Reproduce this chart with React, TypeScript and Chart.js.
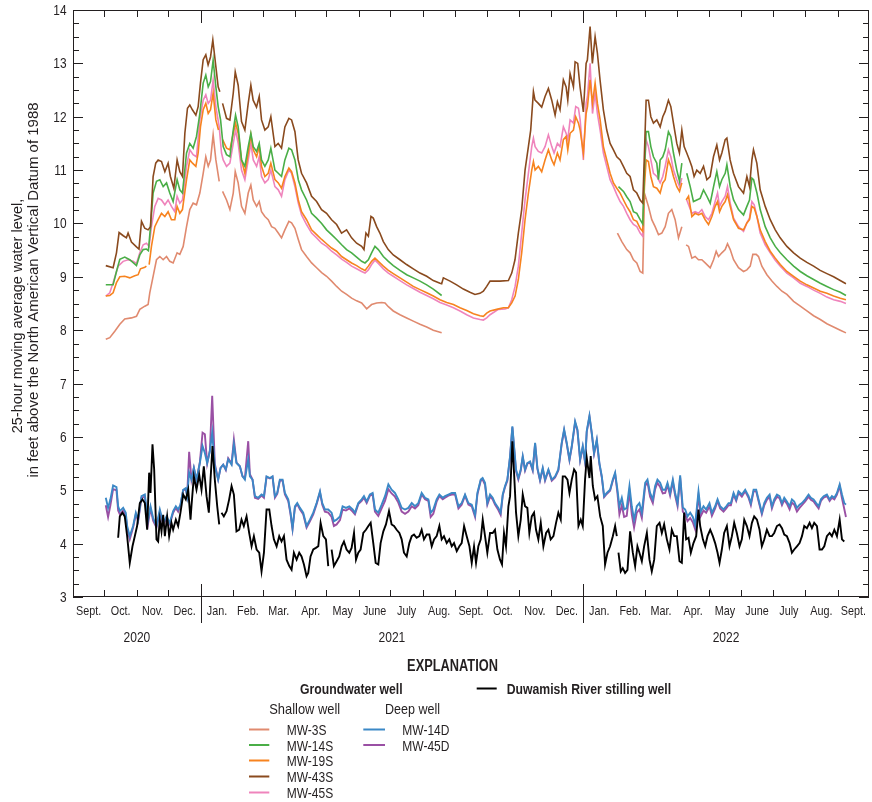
import { useEffect, useRef } from "react";
import { Chart, registerables } from "chart.js";

Chart.register(...registerables);

type Pt = [number, number | null];

// x = days since 1 September 2020, y = water level (ft NAVD 88)
const mw43S: Pt[] = [[31.3,9.21],[38.3,9.17],[41.5,9.45],[44,9.83],[48,9.77],[51,9.73],[52.6,9.82],[55.8,9.65],[60.6,9.56],[63,9.52],[65.4,10.04],[68.5,9.91],[71.7,9.88],[74,9.94],[76.5,10.88],[79,11.13],[81.3,11.19],[84.5,11.16],[87.7,10.97],[90.8,11.13],[93,10.88],[96.3,10.66],[99.4,11.19],[102,10.97],[104.5,10.88],[106.8,11.69],[109.3,12.16],[111.5,12.22],[114,12.13],[117.3,12.03],[119.5,12.19],[121.7,12.63],[124.3,13.07],[126.8,13.16],[129,12.97],[131.3,13.12],[133.5,13.44],[136.4,12.94],[138.6,12.56],[140.2,12.47],[141.5,null],[142.8,12.25],[146.6,11.97],[149.8,11.94],[153,12.44],[154.9,12.84],[157.7,12.59],[160.9,11.91],[164.1,11.75],[167.3,12.25],[169.8,12.59],[172,12.31],[175.2,12.18],[177.8,12.38],[180,11.94],[183.2,11.75],[186.4,11.81],[188.9,12.0],[192.8,11.44],[195.9,11.5],[199.1,11.41],[202.3,11.81],[206.1,11.97],[208.7,11.94],[211.9,11.72],[215,11.19],[218.2,10.94],[223,10.76],[227.8,10.51],[232.6,10.41],[237.3,10.26],[242.1,10.19],[246.9,10.07],[251.7,9.98],[256.4,9.82],[261.2,9.88],[266,9.73],[270.8,9.63],[275.6,9.57],[277.8,9.51],[279.7,9.82],[282,9.76],[284.5,10.13],[286.7,10.1],[289.9,9.94],[293,9.82],[296.3,9.66],[301,9.51],[305.8,9.41],[312.2,9.32],[318.5,9.23],[324.9,9.15],[331.3,9.07],[337.7,9.01],[344,8.93],[350.4,8.88],[352,8.87],[353.6,8.98],[360,8.92],[366.3,8.85],[372.7,8.77],[379,8.71],[383.8,8.67],[388.6,8.69],[391.8,8.73],[395,8.82],[398.2,8.92],[401.3,8.92],[407.7,8.92],[415.7,8.93],[418.9,9.07],[422,9.32],[425.2,9.82],[428.4,10.26],[431.6,11.0],[434.8,11.44],[437,11.75],[439.6,12.47],[441.1,12.31],[444.3,12.25],[447.5,12.18],[450.7,12.38],[453.9,12.53],[457.1,12.31],[460.3,12.03],[462.5,12.28],[465,12.13],[468.2,12.69],[470.8,12.56],[472.4,12.31],[474.6,12.81],[477.8,12.56],[479.4,13.03],[481.9,13.0],[484.1,12.56],[487.3,12.09],[489.9,13.0],[491.1,13.06],[493.7,13.69],[495.9,13.0],[498.5,13.5],[500.7,13.19],[503.2,12.69],[506.4,12.13],[509.6,11.75],[512.8,11.5],[516,11.38],[519.2,11.25],[522.4,11.19],[525.5,11.07],[528.7,10.94],[531.9,10.88],[535.1,10.63],[538.3,10.57],[541.5,10.44],[544,10.38],[545.6,11.32],[547.2,12.31],[549.4,12.31],[551.7,12.0],[554.2,11.88],[557.4,11.94],[560.6,11.81],[563.1,12.0],[565.4,12.1],[568.5,12.31],[570.8,12.19],[573.3,11.88],[576.5,11.5],[579,11.32],[581.3,11.75],[583.5,11.44],[586,11.32],[588.6,11.19],[590.8,11.07],[593,10.88],[595.6,11.0],[598.8,10.94],[602,11.07],[605.2,10.82],[608.3,10.88],[611.5,11.25],[614.7,11.47],[617.3,11.19],[619.5,11.32],[622.7,11.57],[624.3,11.6],[627.4,11.19],[630.6,10.94],[635.4,10.69],[640.2,10.57],[643.4,10.88],[645.9,10.69],[648.2,11.19],[649.7,11.38],[652.9,11.13],[656.1,10.63],[660.9,10.32],[665.7,10.07],[670.5,9.88],[675.2,9.73],[681.6,9.57],[688,9.45],[694.3,9.35],[700.7,9.27],[707.1,9.2],[713.4,9.12],[719.8,9.06],[726.2,9.0],[732.5,8.93],[738,8.87]];

const mw14S: Pt[] = [[31.3,8.85],[38.3,8.85],[41.5,9.1],[44.7,9.33],[49.4,9.37],[54.2,9.32],[60.6,9.21],[63.8,9.41],[67,9.51],[70.1,9.52],[72,9.49],[74,9.94],[76.5,10.57],[79.7,10.79],[82.9,10.82],[86.1,10.69],[89.3,10.76],[92.4,10.57],[95.6,10.41],[99.4,10.82],[102,10.63],[104.5,10.57],[108.4,11.32],[111.5,11.5],[114.7,11.41],[117.9,11.63],[121.1,12.06],[124.3,12.63],[126.8,12.78],[129.1,12.56],[131.3,12.66],[133.8,13.06],[136.4,12.56],[138.6,12.19],[140.9,11.94],[143.4,11.44],[146.6,11.29],[149.8,11.25],[153,11.75],[155.2,12.03],[157.7,11.81],[160.9,11.19],[164.1,11.07],[167.3,11.44],[169.8,11.69],[172.1,11.44],[175.3,11.35],[177.8,11.5],[180,11.19],[183.2,11.07],[186.4,11.19],[188.9,11.41],[192.8,11.0],[196,10.94],[199.1,10.88],[202.3,11.19],[206.1,11.41],[208.7,11.38],[211.9,11.19],[215.1,10.82],[218.2,10.63],[223,10.44],[227.8,10.19],[232.6,10.1],[237.4,10.0],[242.1,9.88],[246.9,9.79],[251.7,9.7],[256.5,9.6],[261.2,9.51],[266,9.45],[270.8,9.37],[275.6,9.29],[278.8,9.26],[282,9.32],[285.1,9.45],[288.3,9.57],[291.5,9.51],[296.3,9.38],[301.1,9.29],[305.8,9.21],[312.2,9.12],[318.6,9.04],[324.9,8.98],[331.3,8.92],[337.7,8.85],[344,8.77],[352,8.65],[353,null],[520.8,10.69],[525.6,10.6],[528.7,10.5],[531.9,10.41],[535.1,10.22],[538.3,10.19],[541.5,10.07],[544,9.99],[545.6,11.0],[547.2,11.72],[549.4,11.72],[551.7,11.44],[554.2,11.25],[557.4,11.13],[559,10.82],[560.6,11.19],[563.1,11.25],[565.4,11.38],[568.5,11.72],[570.8,11.63],[573.3,11.32],[576.5,11.0],[579.1,10.79],[581.3,11.13],[583.5,null],[586,10.94],[589.3,10.69],[592.4,10.41],[595.6,10.44],[598.8,10.47],[602,10.63],[605.2,10.51],[608.4,10.38],[611.6,10.69],[614.7,10.97],[617.3,10.69],[619.5,10.82],[622.7,10.94],[624.3,11.1],[627.5,10.69],[630.7,10.44],[635.4,10.26],[640.2,10.16],[643.4,10.32],[645.9,10.44],[648.2,10.85],[649.8,10.82],[653,10.57],[656.1,10.26],[660.9,9.94],[665.7,9.73],[670.5,9.57],[675.3,9.45],[681.6,9.32],[688,9.2],[694.4,9.1],[700.7,9.02],[707.1,8.95],[713.5,8.88],[719.8,8.82],[726.2,8.76],[732.6,8.71],[738,8.65]];

const mw19S: Pt[] = [[31.3,8.64],[35.1,8.65],[38.3,8.7],[41.5,8.89],[44.7,9.0],[49.4,9.01],[54.2,8.98],[59,9.02],[62.2,9.04],[64.4,9.15],[68.6,9.18],[70.1,9.2],[71.4,null],[72.7,9.23],[74.9,9.57],[78.1,9.94],[81.3,10.07],[84.5,10.19],[87.7,10.13],[90.8,10.22],[94,10.07],[97.2,10.07],[99.4,10.32],[102,10.19],[104.5,10.26],[108.4,10.82],[111.5,11.19],[114.1,11.13],[117.3,11.07],[119.5,11.32],[121.7,11.81],[124.3,12.13],[126.8,12.25],[129.1,12.06],[131.3,12.13],[133.8,12.44],[136.4,11.94],[138.9,11.75],[140.8,null],[142.8,11.57],[146.6,11.41],[149.8,11.38],[153,11.69],[155.2,11.88],[157.7,11.69],[160.9,11.19],[164.1,10.94],[167.3,11.32],[169.8,11.66],[172.1,11.38],[175.3,11.25],[177.8,11.44],[180,11.07],[183.2,10.88],[186.4,10.94],[188.9,11.13],[192.8,10.82],[196,10.76],[199.1,10.66],[202.3,10.88],[206.1,11.04],[208.7,10.97],[211.9,10.76],[215.1,10.44],[218.2,10.22],[223,10.07],[227.8,9.88],[232.6,9.79],[237.4,9.7],[242.1,9.62],[246.9,9.54],[251.7,9.48],[256.5,9.38],[261.2,9.32],[266,9.26],[270.8,9.21],[275.6,9.15],[278.8,9.12],[282,9.2],[285.1,9.29],[288.3,9.35],[291.5,9.29],[296.3,9.2],[301.1,9.12],[305.8,9.06],[312.2,8.98],[318.6,8.9],[324.9,8.82],[331.3,8.76],[337.7,8.7],[344,8.64],[350.4,8.57],[356.8,8.52],[363.2,8.48],[369.5,8.42],[375.9,8.37],[382.3,8.31],[388.6,8.27],[391.8,8.26],[395,8.32],[398.2,8.36],[404.5,8.39],[410.9,8.42],[415.7,8.42],[418.9,8.51],[422.1,8.64],[425.2,8.95],[428.4,9.45],[431.6,10.07],[434.8,10.57],[438,11.0],[439.6,11.16],[441.2,11.0],[444.3,11.07],[447.5,10.97],[450.7,11.19],[453.9,11.38],[457.1,11.19],[459.3,11.1],[462.5,11.32],[465,11.19],[468.2,11.57],[470.8,11.63],[472.4,11.38],[474.6,11.69],[477.8,11.75],[480,12.0],[482.6,11.88],[484.2,11.75],[487.3,11.32],[489.9,12.06],[491.2,12.19],[493.7,12.69],[496,12.25],[498.5,12.63],[500.7,12.25],[503.3,11.94],[506.4,11.44],[509.6,11.19],[512.8,10.94],[516,10.76],[519.2,10.66],[522.4,10.57],[525.6,10.44],[528.7,10.32],[531.9,10.22],[535.1,10.07],[538.3,10.04],[541.5,9.91],[544,9.85],[545.6,10.69],[547.2,11.19],[549.4,11.16],[551.7,10.88],[554.2,10.69],[557.4,10.66],[560.6,10.57],[563.1,10.76],[565.4,10.82],[568.5,11.19],[570.8,11.07],[573.3,10.88],[576.5,10.69],[579.1,10.6],[581.3,10.76],[583.4,null],[585.4,10.44],[587.7,10.51],[590.9,10.13],[594,10.19],[597.2,10.16],[600.4,10.19],[603.6,10.07],[606.8,9.98],[610,10.13],[613.1,10.32],[615.4,10.41],[617.3,10.22],[619.5,10.32],[622.7,10.41],[624.9,10.54],[627.5,10.32],[630.7,10.07],[635.4,9.91],[640.2,9.88],[643.4,10.01],[645.9,10.07],[648.2,10.32],[650.4,10.29],[653,10.13],[656.1,9.88],[660.9,9.66],[665.7,9.48],[670.5,9.35],[675.3,9.23],[681.6,9.1],[688,9.01],[694.4,8.92],[700.7,8.85],[707.1,8.79],[713.5,8.73],[719.8,8.69],[726.2,8.64],[732.6,8.6],[738,8.57]];

const mw45S: Pt[] = [[31.3,8.64],[35.1,8.7],[38.3,8.89],[43.1,9.2],[47.9,9.29],[52.6,9.32],[57.4,9.29],[60.6,9.25],[63.8,9.45],[67,9.6],[70.1,9.63],[72.7,9.57],[74.9,9.94],[78.1,10.32],[81.3,10.47],[84.5,10.44],[87.7,10.35],[90.8,10.44],[94,10.32],[97.2,10.22],[99.4,10.51],[102,10.38],[104.5,10.44],[108.4,11.07],[111.5,11.38],[114.7,11.29],[117.9,11.25],[121.1,11.94],[124.3,12.31],[126.8,12.41],[129.1,12.25],[131.3,12.31],[133.8,12.69],[136.4,12.19],[139.6,11.81],[141.8,11.32],[143.4,11.19],[146.6,11.07],[149.8,11.13],[153,11.5],[155.2,11.75],[157.7,11.5],[160.9,11.0],[164.1,10.82],[167.3,11.19],[169.8,11.5],[172.1,11.19],[175.3,11.07],[177.8,11.25],[180,10.88],[183.2,10.76],[186.4,10.82],[188.9,11.0],[192.8,10.69],[196,10.63],[199.1,10.51],[202.3,10.82],[206.1,11.0],[208.7,10.94],[211.9,10.69],[215.1,10.38],[218.2,10.16],[223,9.98],[227.8,9.82],[232.6,9.73],[237.4,9.63],[242.1,9.57],[246.9,9.48],[251.7,9.41],[256.5,9.33],[261.2,9.27],[266,9.2],[270.8,9.15],[275.6,9.1],[278.8,9.07],[282,9.13],[285.1,9.23],[288.3,9.31],[291.5,9.25],[296.3,9.15],[301.1,9.07],[305.8,9.01],[312.2,8.93],[318.6,8.85],[324.9,8.78],[331.3,8.71],[337.7,8.65],[344,8.59],[350.4,8.52],[356.8,8.47],[363.2,8.42],[369.5,8.36],[375.9,8.29],[382.3,8.23],[388.6,8.2],[391.8,8.19],[395,8.23],[398.2,8.29],[406.1,8.39],[412.5,8.4],[415.7,8.42],[418.9,8.57],[422.1,8.82],[425.2,9.2],[428.4,9.82],[431.6,10.44],[434.8,10.94],[438,11.44],[439.6,11.6],[441.2,11.44],[444.3,11.35],[447.5,11.32],[450.7,11.44],[453.9,11.66],[457.1,11.44],[459.3,11.32],[462.5,11.5],[465,11.44],[468.2,11.81],[470.8,11.69],[472.4,11.57],[474.6,11.94],[477.8,11.88],[480,12.19],[482.6,12.16],[484.2,11.94],[487.3,11.19],[489.9,12.25],[491.2,12.38],[493.7,13.0],[496,12.06],[498.5,12.44],[500.7,12.06],[503.3,11.75],[506.4,11.32],[509.6,11.07],[512.8,10.82],[516,10.69],[519.2,10.54],[522.4,10.41],[525.6,10.32],[528.7,10.19],[531.9,10.07],[535.1,9.98],[538.3,9.94],[541.5,9.82],[544,9.76],[545.6,11.0],[547.2,11.57],[549.4,11.44],[551.7,11.19],[554.2,10.94],[557.4,10.88],[560.6,10.76],[563.1,10.88],[565.4,11.07],[568.5,11.38],[570.8,11.25],[573.3,11.0],[576.5,10.82],[579.1,10.69],[581.3,10.85],[583.6,null],[586,10.44],[590.9,10.19],[594,10.22],[597.2,10.19],[600.4,10.26],[603.6,10.13],[606.8,10.07],[610,10.19],[613.1,10.41],[615.4,10.57],[617.3,10.32],[619.5,10.41],[622.7,10.51],[624.9,10.69],[627.5,10.38],[630.7,10.1],[635.4,9.94],[640.2,9.85],[643.4,10.01],[645.9,10.1],[648.2,10.41],[650.4,10.35],[653,10.13],[656.1,9.82],[660.9,9.6],[665.7,9.45],[670.5,9.31],[675.3,9.2],[681.6,9.07],[688,8.98],[694.4,8.88],[700.7,8.82],[707.1,8.75],[713.5,8.69],[719.8,8.62],[726.2,8.57],[732.6,8.54],[738,8.5]];

const mw3S: Pt[] = [[31.3,7.83],[35.1,7.86],[39.9,7.98],[44.7,8.11],[49.4,8.21],[55.8,8.23],[60.6,8.26],[63.8,8.39],[68.6,8.45],[71.7,8.48],[73.3,8.7],[76.5,9.01],[79.7,9.32],[82.9,9.38],[86.1,9.32],[89.3,9.38],[92.4,9.29],[95.6,9.26],[99.4,9.45],[102,9.42],[105.2,9.57],[108.4,9.94],[111.5,10.26],[114.7,10.38],[117.9,10.35],[121.1,10.57],[124.3,10.94],[126.8,11.25],[129.1,11.07],[131.3,11.19],[133.8,11.66],[136.4,11.19],[139.6,10.79],[141.2,null],[142.8,10.6],[146.6,10.44],[149.8,10.26],[153,10.57],[154.9,10.97],[157.7,10.76],[160.9,10.32],[164.1,10.19],[167.3,10.57],[169.8,10.72],[172.1,10.44],[175.3,10.32],[177.8,10.41],[180,10.22],[183.2,10.13],[186.4,10.07],[189.6,9.94],[192.8,9.91],[196,9.82],[199.1,9.73],[202.3,9.88],[206.1,10.04],[208.7,10.01],[211.9,9.91],[215.1,9.7],[218.2,9.51],[223,9.38],[227.8,9.26],[232.6,9.17],[237.4,9.08],[242.1,9.01],[246.9,8.92],[251.7,8.82],[256.5,8.73],[261.2,8.67],[266,8.6],[270.8,8.55],[275.6,8.51],[280.4,8.4],[285.1,8.48],[289.9,8.51],[294.7,8.52],[297.9,8.51],[301.1,8.44],[305.8,8.36],[312.2,8.29],[318.6,8.23],[324.9,8.17],[331.3,8.11],[337.7,8.06],[344,8.0],[352,7.95],[353,null],[519.8,9.82],[524,9.66],[528.7,9.51],[531.9,9.45],[535.1,9.32],[538.3,9.26],[541.5,9.1],[544,9.07],[545.6,10.57],[549.4,10.32],[552.6,10.07],[555.8,9.94],[559,9.79],[562.2,9.82],[565.4,9.94],[568.5,10.19],[571.7,10.26],[574.9,10.07],[578.1,9.73],[581.3,9.94],[583.4,null],[585.4,9.6],[587.7,9.57],[590.9,9.35],[594,9.38],[597.2,9.32],[600.4,9.32],[603.6,9.26],[608.4,9.17],[611.6,9.32],[614.1,9.48],[616.3,9.38],[619.5,9.45],[622.7,9.51],[624.9,9.62],[627.5,9.51],[630.7,9.32],[635.4,9.17],[640.2,9.1],[643.4,9.13],[646.6,9.2],[649.1,9.42],[652.3,9.42],[654.5,9.38],[657.7,9.2],[662.5,9.04],[667.3,8.92],[672.1,8.82],[676.9,8.73],[681.6,8.67],[688,8.54],[694.4,8.45],[700.7,8.36],[707.1,8.27],[713.5,8.2],[719.8,8.12],[726.2,8.06],[732.6,8.0],[738,7.95]];

const mw14D: Pt[] = [[31.3,4.86],[33.5,4.67],[35.7,4.83],[38.3,5.09],[41.5,5.06],[43.1,4.7],[44.7,4.61],[47.9,4.67],[50.4,4.58],[51.7,4.33],[54.2,4.14],[57.4,4.33],[60,4.58],[62.2,4.45],[65.4,4.89],[68.6,4.92],[70.1,4.64],[71.7,4.45],[74,4.7],[76.5,4.48],[79.7,4.33],[82.9,4.64],[86.1,4.39],[89.3,4.51],[92.4,4.39],[95.6,4.61],[98.2,4.7],[100.4,4.64],[102.6,4.73],[105.2,5.01],[107.7,5.04],[109,4.89],[110.9,5.33],[113.1,5.2],[115.4,5.42],[117.9,5.2],[121.1,5.51],[123.7,5.83],[125.9,5.7],[128.1,5.51],[130.7,5.73],[132.9,6.08],[135.4,5.45],[138.6,5.2],[140.9,5.42],[143.4,5.48],[145.9,5.39],[148.2,5.58],[151.4,5.48],[153.6,5.86],[156.1,5.51],[159.3,5.45],[161.9,5.26],[164.1,5.2],[167.3,5.58],[168.9,5.26],[171.4,5.2],[173.7,4.89],[176.8,4.86],[180,4.92],[182.3,4.89],[184.8,5.26],[188,5.23],[190.5,5.26],[192.8,4.89],[195,4.95],[197.5,5.2],[200.1,5.2],[202.3,4.95],[205.5,4.83],[207.7,4.58],[209.6,4.29],[211.9,4.7],[214.1,4.76],[216.7,4.67],[219.8,4.58],[223,4.33],[226.2,4.45],[229.4,4.58],[232.6,4.76],[235.8,4.98],[238,4.76],[240.5,4.64],[243.7,4.64],[246.9,4.58],[249.1,4.42],[251.7,4.45],[254.9,4.51],[257.4,4.7],[260.6,4.67],[263.8,4.7],[267,4.64],[269.2,4.58],[272.4,4.76],[275.6,4.83],[277.8,4.89],[280.4,4.79],[283.5,4.92],[286.1,4.95],[288.3,4.64],[291.5,4.58],[294.7,4.73],[297.9,4.89],[301.1,5.11],[304.2,5.01],[307.4,4.95],[310.6,4.83],[313.8,4.67],[317,4.64],[320.2,4.67],[323.4,4.76],[326.5,4.7],[329.7,4.76],[332.9,4.95],[336.1,4.86],[339.3,4.83],[341.5,4.58],[344,4.64],[347.2,4.83],[349.8,4.92],[353,4.86],[355.2,4.89],[358.4,4.92],[361.6,4.95],[364.8,4.95],[368,4.7],[371.1,4.76],[374.3,4.92],[377.5,4.76],[380.7,4.73],[383.9,4.54],[386.1,4.95],[389.3,5.2],[391.1,5.23],[393.4,5.14],[395.6,4.76],[398.2,4.92],[400.7,4.86],[402.9,4.76],[406.1,4.67],[408.3,4.58],[410.3,4.92],[412.5,5.08],[414.7,5.2],[417.3,5.64],[419.5,6.2],[421.1,5.83],[423,5.39],[425.2,5.23],[427.5,5.39],[429.4,5.64],[431.6,5.39],[433.8,5.51],[436.4,5.54],[438.9,5.39],[441.2,5.89],[443.4,5.42],[445.9,5.2],[448.5,5.42],[450.7,5.2],[453.9,5.39],[457.1,5.2],[460.3,5.26],[463.4,5.39],[466.6,5.89],[468.9,6.14],[471.4,5.89],[474,5.58],[476.2,5.83],[479.4,6.29],[481.6,6.14],[484.2,5.58],[486.7,5.83],[488.9,5.54],[490.5,6.11],[493.1,6.4],[495.3,6.08],[497.5,5.7],[500.1,5.95],[502.6,5.51],[504.9,5.26],[507.1,4.89],[509.6,4.95],[512.8,5.01],[515.4,5.2],[517.6,5.33],[519.8,5.01],[521.7,4.7],[524,4.86],[526.2,4.64],[528.7,4.67],[531.3,5.08],[533.5,4.7],[535.7,4.45],[538.3,4.7],[540.8,4.76],[543.1,4.58],[546.3,5.14],[548.5,5.2],[551,4.95],[553.6,4.83],[555.8,5.08],[558,5.2],[560.6,5.14],[563.1,5.01],[565.4,5.01],[567.6,5.14],[570.1,4.95],[572.7,5.2],[574.9,4.95],[577.2,4.76],[579.7,5.28],[582.2,4.68],[584.5,4.64],[586.7,4.51],[589.3,4.58],[591.8,4.5],[594,4.35],[597.2,4.98],[599.4,4.6],[602,4.7],[604.5,4.64],[607.7,4.76],[610,4.58],[613.1,4.7],[615.4,4.83],[617.9,4.7],[621.1,4.64],[623.7,4.7],[625.9,4.76],[628.1,4.76],[630.7,4.95],[633.2,4.83],[635.4,4.98],[638.6,4.92],[641.8,5.01],[645,4.89],[647.2,4.76],[649.8,5.01],[652.3,5.01],[654.5,4.83],[657.7,4.58],[660,4.76],[662.5,4.86],[665.1,4.92],[667.3,4.7],[669.5,4.83],[672.1,4.92],[674.6,4.89],[676.9,4.76],[679.1,4.86],[681.6,4.79],[684.2,4.7],[686.4,4.83],[688.6,4.79],[691.2,4.67],[693.7,4.73],[696,4.76],[699.1,4.83],[702.3,4.92],[704.5,4.86],[707.1,4.83],[709.6,4.76],[711.9,4.7],[714.1,4.83],[716.7,4.89],[719.8,4.92],[722.4,4.83],[724.6,4.89],[726.9,4.86],[729.4,4.95],[732,5.11],[734.2,4.92],[736.4,4.76],[738,4.73]];

const mw45D: Pt[] = [[31.3,4.72],[33.5,4.5],[35.7,4.72],[38.3,5.02],[41.5,5.0],[43.1,4.62],[44.7,4.55],[47.9,4.62],[50.4,4.52],[51.7,4.28],[54.2,4.08],[57.4,4.3],[60,4.55],[62.2,4.42],[65.4,4.86],[68.6,4.88],[70.1,4.6],[71.7,4.38],[74,4.66],[76.5,4.43],[79.7,4.3],[82.9,4.6],[86.1,4.36],[89.3,4.48],[92.4,4.36],[95.6,4.58],[98.2,4.67],[100.4,4.6],[102.6,4.72],[105.2,5.0],[107.7,5.02],[109,4.9],[110.9,5.72],[113.1,5.2],[115.4,5.42],[117.9,5.18],[121.1,5.52],[123.7,6.08],[125.9,6.05],[128.1,5.5],[130.7,5.75],[132.9,6.77],[135.4,5.5],[138.6,5.2],[140.9,5.42],[143.4,5.48],[145.9,5.38],[148.2,5.6],[151.4,5.5],[153.6,5.95],[156.1,5.52],[159.3,5.45],[161.9,5.26],[164.1,5.22],[167.3,5.92],[168.9,5.3],[171.4,5.2],[173.7,4.86],[176.8,4.84],[180,4.9],[182.3,4.86],[184.8,5.25],[188,5.22],[190.5,5.25],[192.8,4.86],[195,4.93],[197.5,5.18],[200.1,5.18],[202.3,4.92],[205.5,4.8],[207.7,4.55],[209.6,4.27],[211.9,4.68],[214.1,4.74],[216.7,4.64],[219.8,4.55],[223,4.3],[226.2,4.42],[229.4,4.55],[232.6,4.74],[235.8,4.96],[238,4.73],[240.5,4.6],[243.7,4.58],[246.9,4.5],[249.1,4.33],[251.7,4.36],[254.9,4.44],[257.4,4.64],[260.6,4.62],[263.8,4.66],[267,4.6],[269.2,4.55],[272.4,4.74],[275.6,4.8],[277.8,4.86],[280.4,4.76],[283.5,4.9],[286.1,4.92],[288.3,4.6],[291.5,4.52],[294.7,4.66],[297.9,4.8],[301.1,5.02],[304.2,4.94],[307.4,4.88],[310.6,4.77],[313.8,4.6],[317,4.56],[320.2,4.6],[323.4,4.7],[326.5,4.66],[329.7,4.72],[332.9,4.92],[336.1,4.83],[339.3,4.8],[341.5,4.5],[344,4.56],[347.2,4.79],[349.8,4.89],[353,4.83],[355.2,4.86],[358.4,4.9],[361.6,4.92],[364.8,4.92],[368,4.66],[371.1,4.73],[374.3,4.9],[377.5,4.73],[380.7,4.7],[383.9,4.5],[386.1,4.92],[389.3,5.18],[391.1,5.2],[393.4,5.1],[395.6,4.73],[398.2,4.88],[400.7,4.83],[402.9,4.73],[406.1,4.63],[408.3,4.54],[410.3,4.9],[412.5,5.06],[414.7,5.18],[417.3,5.62],[419.5,6.18],[421.1,5.8],[423,5.36],[425.2,5.2],[427.5,5.37],[429.4,5.62],[431.6,5.37],[433.8,5.5],[436.4,5.52],[438.9,5.37],[441.2,5.87],[443.4,5.4],[445.9,5.18],[448.5,5.4],[450.7,5.18],[453.9,5.37],[457.1,5.18],[460.3,5.24],[463.4,5.37],[466.6,5.87],[468.9,6.12],[471.4,5.87],[474,5.56],[476.2,5.81],[479.4,6.27],[481.6,6.12],[484.2,5.56],[486.7,5.81],[488.9,5.52],[490.5,6.09],[493.1,6.38],[495.3,6.06],[497.5,5.68],[500.1,5.93],[502.6,5.49],[504.9,5.24],[507.1,4.87],[509.6,4.93],[512.8,4.99],[515.4,5.18],[517.6,5.31],[519.8,4.95],[521.7,4.55],[524,4.72],[526.2,4.5],[528.7,4.52],[531.3,4.98],[533.5,4.55],[535.7,4.3],[538.3,4.58],[540.8,4.64],[543.1,4.48],[546.3,5.08],[548.5,5.15],[551,4.88],[553.6,4.76],[555.8,5.02],[558,5.14],[560.6,5.06],[563.1,4.94],[565.4,4.95],[567.6,5.1],[570.1,4.9],[572.7,5.16],[574.9,4.9],[577.2,4.7],[579.7,5.24],[582.2,4.6],[584.5,4.55],[586.7,4.42],[589.3,4.48],[591.8,4.4],[594,4.27],[597.2,4.9],[599.4,4.52],[602,4.62],[604.5,4.58],[607.7,4.7],[610,4.52],[613.1,4.66],[615.4,4.8],[617.9,4.66],[621.1,4.6],[623.7,4.66],[625.9,4.72],[628.1,4.72],[630.7,4.92],[633.2,4.8],[635.4,4.95],[638.6,4.88],[641.8,4.98],[645,4.86],[647.2,4.72],[649.8,4.98],[652.3,4.98],[654.5,4.8],[657.7,4.55],[660,4.72],[662.5,4.82],[665.1,4.88],[667.3,4.66],[669.5,4.79],[672.1,4.88],[674.6,4.85],[676.9,4.72],[679.1,4.82],[681.6,4.75],[684.2,4.64],[686.4,4.77],[688.6,4.73],[691.2,4.6],[693.7,4.67],[696,4.72],[699.1,4.79],[702.3,4.88],[704.5,4.82],[707.1,4.79],[709.6,4.72],[711.9,4.66],[714.1,4.8],[716.7,4.86],[719.8,4.89],[722.4,4.8],[724.6,4.86],[726.9,4.83],[729.4,4.92],[732,5.08],[734.2,4.85],[736.4,4.65],[738,4.5]];

const river: Pt[] = [[43.1,4.11],[44.7,4.51],[47.2,4.58],[49.4,4.51],[51.7,4.14],[54.2,3.64],[56.8,3.95],[59,4.14],[61.2,4.33],[63.8,4.76],[66.3,4.83],[68.6,4.76],[70.8,4.26],[72.7,5.33],[74,4.95],[75.9,5.86],[77.5,5.39],[79.7,4.08],[81.3,4.04],[82.9,4.45],[84.5,4.23],[86.1,4.54],[87.7,4.14],[89.9,4.51],[91.8,4.14],[94,4.39],[95.6,4.26],[98.2,4.45],[100.4,4.33],[102.6,4.58],[105.2,4.92],[107.7,4.83],[110,5.01],[112.2,4.45],[113.1,4.7],[115.4,5.26],[117.9,5.01],[120.5,5.29],[122.7,5.01],[124.9,5.45],[127.5,4.89],[129.7,4.58],[131.3,5.2],[133.2,5.83],[135.4,5.2],[137.7,4.7],[139.6,4.36],[140.7,null],[141.8,4.58],[144,4.51],[146.6,4.61],[149.1,4.83],[151.4,5.08],[153.6,4.92],[156.1,4.23],[158.7,4.26],[160.9,4.45],[163.1,4.33],[165.7,4.51],[168.2,4.2],[170.5,3.95],[172.7,4.14],[175.3,3.89],[177.8,3.83],[180,3.48],[182.3,3.83],[184.8,4.64],[187.4,4.64],[189.6,4.33],[191.8,4.08],[194.4,3.95],[196.9,4.14],[199.1,4.04],[201.4,4.14],[203.9,3.7],[206.5,3.58],[208.7,3.51],[210.9,3.83],[213.5,3.7],[216,3.83],[218.2,3.76],[220.5,3.61],[223,3.39],[224.6,3.45],[226.8,3.76],[229.4,3.89],[231.9,3.92],[234.2,3.95],[236.4,4.39],[239,4.14],[241.5,4.08],[243.7,3.58],[245.2,null],[246.9,3.89],[249.1,3.58],[251.7,3.67],[254.2,3.76],[256.5,3.95],[258.7,4.04],[261.2,3.89],[263.8,3.83],[266,3.92],[268.3,4.2],[270.2,3.7],[272.4,3.83],[274.6,3.89],[277.2,4.2],[279.7,4.26],[282,4.33],[284.2,4.39],[286.7,4.01],[289,3.64],[291.5,3.61],[293.7,4.01],[296.3,4.23],[298.8,4.36],[301.7,4.61],[304.2,4.36],[306.5,4.33],[309,4.26],[311.6,4.2],[313.8,4.08],[316,3.83],[318.6,3.76],[321.1,4.01],[323.4,4.14],[325.6,4.17],[328.1,4.11],[330.7,4.14],[332.9,4.26],[335.1,4.08],[337.7,4.17],[340.2,4.17],[342.5,3.95],[344.7,4.08],[347.2,4.14],[349.8,4.33],[352,4.08],[354.2,4.14],[356.8,4.01],[359.3,4.08],[361.6,3.95],[363.8,4.01],[366.4,3.86],[368.9,3.95],[371.1,4.01],[373.4,4.33],[375.9,4.14],[378.5,3.95],[380.7,3.64],[382.9,3.95],[384.8,3.64],[387,3.95],[389.3,4.08],[391.2,4.45],[393.4,4.14],[395.6,3.83],[398.2,4.2],[400.7,4.2],[402.9,4.26],[405.2,3.89],[407.7,3.7],[409.6,3.61],[411.5,4.2],[413.4,3.95],[415.7,4.7],[417.3,4.89],[419.5,5.92],[421.1,5.33],[423,4.58],[425.2,4.14],[427.5,4.45],[429.4,4.92],[431.6,4.7],[433.8,4.67],[435.7,4.2],[438,4.51],[440.2,4.58],[442.1,4.26],[444.3,4.08],[446.6,4.39],[449.1,3.95],[451.7,4.2],[453.9,4.26],[456.1,4.08],[458.7,4.14],[461.2,4.39],[463.4,4.58],[465.7,4.45],[467.6,5.26],[469.8,5.26],[472.1,5.2],[474,4.95],[476.2,5.2],[478.4,5.39],[480.3,5.33],[482.6,4.33],[484.8,4.45],[486.7,4.33],[488.9,5.2],[490.5,5.61],[493.1,5.23],[494.3,5.64],[496.3,5.08],[498.5,4.83],[500.7,4.89],[503.3,4.51],[505.8,4.33],[508,3.61],[510.3,3.83],[512.8,3.95],[515.4,4.14],[517.6,4.33],[519.2,4.14],[520,null],[520.8,3.83],[523,3.48],[524.9,3.54],[527.1,3.45],[529.4,3.51],[531.9,4.23],[534.5,3.83],[536.7,3.58],[538.9,3.95],[540.8,3.83],[543.1,3.67],[545.3,3.95],[547.9,4.2],[550.4,3.7],[552.6,3.48],[554.9,3.7],[557.4,4.33],[560,4.39],[562.2,4.2],[564.4,4.36],[567,4.08],[569.5,3.89],[571.7,4.26],[574,4.14],[576.5,4.14],[579.1,3.67],[581.3,3.64],[583.5,4.58],[585.4,4.08],[587.7,4.11],[589.9,3.83],[592.4,4.01],[595,4.14],[597.2,4.64],[598.8,4.33],[601.4,4.08],[603.6,3.95],[605.8,4.14],[608.4,4.26],[610.9,4.14],[613.1,4.01],[615.4,3.83],[617.3,3.64],[619.5,3.89],[621.7,4.2],[624.3,4.33],[626.8,3.95],[629.1,4.14],[631.3,4.39],[633.8,4.2],[636.4,3.95],[638.6,4.08],[640.9,4.45],[643.4,4.33],[645.9,4.14],[648.2,4.39],[650.4,4.51],[653,4.45],[655.5,4.26],[657.7,3.95],[660,4.08],[662.5,4.26],[665.1,4.14],[667.3,4.14],[669.5,4.2],[672.1,4.33],[674.6,4.36],[676.9,4.29],[679.1,4.17],[681.6,4.14],[684.2,4.01],[686.4,3.83],[688.6,3.89],[691.2,3.95],[693.7,4.01],[696,4.14],[698.2,4.33],[700.7,4.29],[703.3,4.39],[705.5,4.29],[707.7,4.39],[710.3,4.33],[712.8,3.89],[715.1,3.89],[717.3,3.95],[719.8,4.14],[722.4,4.2],[724.6,4.14],[726.9,4.26],[729.4,4.14],[732,4.45],[734.2,4.08],[736.4,4.04]];

const monthLabels = ["Sept.","Oct.","Nov.","Dec.","Jan.","Feb.","Mar.","Apr.","May","June","July","Aug.","Sept.","Oct.","Nov.","Dec.","Jan.","Feb.","Mar.","Apr.","May","June","July","Aug.","Sept."];
const yearLabels = ["2020", "2021", "2022"];
const yTickLabels = ["3","4","5","6","7","8","9","10","11","12","13","14"];

const FONT = '"Liberation Sans", Arial, sans-serif';
const INK = "#231f20";

type Series = { label: string; data: Pt[]; color: string; width: number; order: number };
const series: Series[] = [
  { label: "Duwamish River stilling well", data: river, color: "#000000", width: 1.9, order: 0 },
  { label: "MW-14D", data: mw14D, color: "#3b88c6", width: 1.9, order: 1 },
  { label: "MW-45D", data: mw45D, color: "#9a50a4", width: 1.9, order: 2 },
  { label: "MW-43S", data: mw43S, color: "#8a4a1e", width: 1.6, order: 3 },
  { label: "MW-14S", data: mw14S, color: "#4aae47", width: 1.6, order: 4 },
  { label: "MW-19S", data: mw19S, color: "#f7831f", width: 1.6, order: 5 },
  { label: "MW-45S", data: mw45S, color: "#ef84bc", width: 1.6, order: 6 },
  { label: "MW-3S", data: mw3S, color: "#e08a6f", width: 1.6, order: 7 },
];

function dayOf(y: number, m: number) {
  return (Date.UTC(y, m, 1) - Date.UTC(2020, 8, 1)) / 86400000;
}

function text(ctx: CanvasRenderingContext2D, s: string, x: number, cy: number, size: number, opts: { bold?: boolean; sx?: number; align?: CanvasTextAlign; rot?: boolean } = {}) {
  const { bold = false, sx = 1, align = "center", rot = false } = opts;
  ctx.save();
  ctx.translate(x, cy);
  if (rot) ctx.rotate(-Math.PI / 2);
  ctx.scale(sx, 1);
  ctx.font = `${bold ? "bold " : ""}${size}px ${FONT}`;
  ctx.textAlign = align;
  ctx.textBaseline = "alphabetic";
  ctx.fillStyle = INK;
  ctx.fillText(s, 0, size * 0.358);
  ctx.restore();
}

const decor = {
  id: "decor",
  afterDraw(chart: any) {
    const ctx: CanvasRenderingContext2D = chart.ctx;
    const xs = chart.scales.x;
    const ys = chart.scales.y;
    const { left, right, top, bottom } = chart.chartArea;
    ctx.save();
    ctx.strokeStyle = INK;
    ctx.lineWidth = 1;
    ctx.strokeRect(left + 0.5, top + 0.5, right - left - 1, bottom - top - 1);
    ctx.beginPath();
    for (let q = 12; q <= 56; q++) {
      const v = q / 4;
      const py = Math.round(ys.getPixelForValue(v)) + 0.5;
      const len = q % 4 === 0 ? 10 : 6;
      ctx.moveTo(left, py); ctx.lineTo(left + len, py);
      ctx.moveTo(right, py); ctx.lineTo(right - len, py);
    }
    for (let i = 1; i < 25; i++) {
      const d = dayOf(2020, 8 + i);
      const px = Math.round(xs.getPixelForValue(d)) + 0.5;
      const jan = (8 + i) % 12 === 0;
      const len = jan ? 13 : 7;
      ctx.moveTo(px, bottom); ctx.lineTo(px, bottom - len);
      ctx.moveTo(px, top); ctx.lineTo(px, top + len);
      if (jan) { ctx.moveTo(px, bottom); ctx.lineTo(px, bottom + 26); }
    }
    ctx.stroke();
    yTickLabels.forEach((lab) => {
      text(ctx, lab, left - 6.5, ys.getPixelForValue(Number(lab)), 14, { sx: 0.85, align: "right" });
    });
    monthLabels.forEach((lab, i) => {
      const a = dayOf(2020, 8 + i);
      const b = dayOf(2020, 9 + i);
      text(ctx, lab, xs.getPixelForValue((a + b) / 2), bottom + 13.5, 13, { sx: 0.83 });
    });
    const yearSpans: [number, number][] = [[dayOf(2020, 8), dayOf(2021, 0)], [dayOf(2021, 0), dayOf(2022, 0)], [dayOf(2022, 0), dayOf(2022, 9)]];
    yearLabels.forEach((lab, i) => {
      const [a, b] = yearSpans[i];
      text(ctx, lab, xs.getPixelForValue((a + b) / 2), bottom + 40, 14, { sx: 0.86 });
    });
    text(ctx, "25-hour moving average water level,", 17, 316, 14.5, { rot: true });
    text(ctx, "in feet above the North American Vertical Datum of 1988", 32.5, 290, 15, { rot: true });

    text(ctx, "EXPLANATION", 452.5, 665.5, 16, { bold: true, sx: 0.8 });
    text(ctx, "Groundwater well", 351.3, 688.7, 15, { bold: true, sx: 0.815 });
    text(ctx, "Duwamish River stilling well", 506.7, 688.7, 15, { bold: true, sx: 0.815, align: "left" });
    text(ctx, "Shallow well", 304.7, 708.7, 15, { sx: 0.86 });
    text(ctx, "Deep well", 412.5, 708.7, 15, { sx: 0.835 });
    const sw = (color: string, x0: number, x1: number, y: number, w: number) => {
      ctx.beginPath();
      ctx.strokeStyle = color;
      ctx.lineWidth = w;
      ctx.moveTo(x0, y); ctx.lineTo(x1, y);
      ctx.stroke();
    };
    sw("#000000", 476.7, 496.7, 688.5, 2);
    const shallow = ["MW-3S", "MW-14S", "MW-19S", "MW-43S", "MW-45S"];
    const rows = [730, 745.5, 761, 777, 793];
    shallow.forEach((lab, i) => {
      const s = series.find((q) => q.label === lab)!;
      sw(s.color, 249, 269.3, rows[i] - 0.5, 2);
      text(ctx, lab, 286.7, rows[i], 15, { sx: 0.8, align: "left" });
    });
    const deep = ["MW-14D", "MW-45D"];
    deep.forEach((lab, i) => {
      const s = series.find((q) => q.label === lab)!;
      sw(s.color, 363.3, 385, rows[i] - 0.5, 2);
      text(ctx, lab, 402.3, rows[i], 15, { sx: 0.8, align: "left" });
    });
    ctx.restore();
  },
};

export default function App() {
  const ref = useRef<HTMLCanvasElement | null>(null);
  useEffect(() => {
    if (!ref.current) return;
    const chart = new Chart(ref.current, {
      type: "line",
      data: {
        datasets: series.map((s) => ({
          label: s.label,
          data: s.data.map(([x, y]) => ({ x, y })),
          borderColor: s.color,
          backgroundColor: s.color,
          borderWidth: s.width,
          pointRadius: 0,
          tension: 0,
          spanGaps: false,
          fill: false,
          order: s.order,
        })),
      },
      options: {
        animation: false,
        responsive: false,
        maintainAspectRatio: false,
        events: [],
        layout: { padding: { left: 73, right: 3, top: 10, bottom: 205 } },
        plugins: { legend: { display: false }, tooltip: { enabled: false }, title: { display: false } },
        scales: {
          x: { type: "linear", min: 0, max: 760, display: false },
          y: { type: "linear", min: 3, max: 14, display: false },
        },
      },
      plugins: [decor],
    } as any);
    return () => chart.destroy();
  }, []);
  return (
    <div style={{ position: "absolute", left: 0, top: 0, width: 872, height: 802, background: "#fff" }}>
      <canvas ref={ref} width={872} height={802} style={{ display: "block" }} />
    </div>
  );
}
